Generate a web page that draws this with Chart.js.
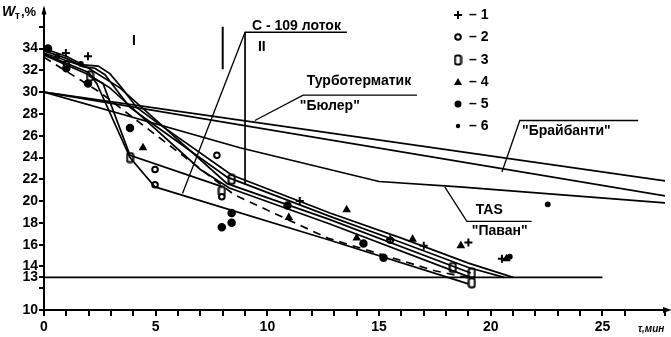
<!DOCTYPE html>
<html lang="ru">
<head>
<meta charset="UTF-8" />
<title>Wт от τ</title>
<style>
  body { margin: 0; background: #fff; }
  #wrap { width: 671px; height: 337px; }
</style>
</head>
<body>
<div id="wrap"><canvas id="chart" width="671" height="337"></canvas></div>
<script src="https://cdn.jsdelivr.net/npm/chart.js"></script>
<script>
// --- tick labels ---
const yTickVals   = [10, 12, 13, 14, 16, 18, 20, 22, 24, 26, 28, 30, 32, 34, 36];
const yTickLabels = ['10', '', '13', '14', '16', '18', '20', '22', '24', '26', '28', '30', '32', '34', ''];
const xTickLabels = ['0', '5', '10', '15', '20', '25'];

// --- drying curves (τ, Wт) ---
const upperA    = [[0,34],[1,33.3],[1.76,32.5],[2.43,32.4],[2.95,31.7],[3.48,30.4],[4.15,28.6],[5,27.3],[8.4,22.4],[12.8,18.9],[16,16.6],[19,14.3],[21,13.0]];
const upperB    = [[0,33.8],[1,33.1],[1.74,32.35],[2.28,32.2],[2.73,31.6],[3.25,30.2],[3.85,28.6],[5,26.9],[8.2,22.2],[12.8,18.6],[16,16.2],[19,13.9],[20.6,13.0]];
const straightA = [[0,33.6],[2,32.2],[3.4,30.4],[8.2,21.6],[12.8,18.3],[19.1,13.4]];
const straightB = [[0,33.4],[2,31.6],[2.95,30.4],[7,22.9],[8.3,21.2],[12.8,17.9],[19.2,12.9]];
const wedgeA    = [[0,33.5],[2,31.8],[2.36,30.8],[3.85,24],[4.97,21.3],[12.8,16.4],[19,12.4]];
const wedgeB    = [[2,31.5],[2.64,30.8],[3.85,24.2],[8,21.3]];
const dashedCurve = [[0,33.2],[2.5,30],[8.5,20.6],[12.7,16.6],[17.5,13.6],[19.1,12.9]];

// --- long lines of the dryers ---
const lineBuhler    = [[0,30],[28,21.8]];
const lineBraibanti = [[0,30],[28,20.4]];
const lineTas       = [[0,30],[8.77,24.9],[15,21.8],[18.6,21.3],[28,19.8]];
const line13        = [[0,13],[25,13]];

// --- leader lines ---
const zoneDivider  = [[8,36],[8,32.1]];
const c109Vertical = [[9,35.5],[9,21.5]];
const c109Leader   = [[6.2,20.7],[9,35.5],[13.56,35.5]];
const buhlerLeader = [[9.44,27.4],[11.6,29.73],[16.7,29.73]];
const braibLeader  = [[20.5,22.67],[21.3,27.4],[26.6,27.4]];
const tasLeader    = [[17.94,21.3],[18.93,18.14],[21.83,18.14]];

// --- experimental points ---
const series1 = [[0.98,33.6],[1.97,33.3],[11.45,20.0],[15.5,16.5],[17,15.9],[19.0,16.2],[20.5,14.7]];
const series2 = [[1.0,32.6],[4.97,22.9],[4.97,21.5],[7.74,24.2],[7.96,20.4],[15.5,16.4]];
const series3 = [[2.06,31.5],[3.85,24.0],[7.96,20.9],[8.4,22.0],[18.3,13.9],[19.15,13.4],[19.15,12.5]];
const series4 = [[4.43,24.9],[10.96,18.5],[13.55,19.2],[14.0,16.6],[16.5,16.5],[18.66,15.9],[20.7,14.7]];
const series5 = [[0.18,34.0],[1.0,32.2],[1.97,30.8],[3.85,26.7],[7.96,17.6],[8.4,18.0],[8.4,18.9],[10.9,19.6],[14.3,16.1],[15.2,14.8]];
const series6 = [[0.6,33.3],[1.65,32.6],[20.85,14.9],[22.55,19.7]];

const toXY = arr => arr.map(p => ({ x: p[0], y: p[1] }));

function lineSet(pts, extra) {
  return Object.assign({
    data: toXY(pts), showLine: true, borderColor: '#000', borderWidth: 1.7,
    pointRadius: 0, fill: false, tension: 0
  }, extra || {});
}
function pointSet(pts, extra) {
  return Object.assign({
    data: toXY(pts), showLine: false, borderColor: '#000', backgroundColor: '#000',
    borderWidth: 1.5, pointRadius: 3
  }, extra || {});
}

// tall rounded box for series 3
const boxImg = document.createElement('canvas');
boxImg.width = 9; boxImg.height = 12;
(function () {
  const c = boxImg.getContext('2d');
  c.fillStyle = '#fff'; c.strokeStyle = '#000'; c.lineWidth = 2;
  c.beginPath();
  c.roundRect ? c.roundRect(1.5, 1.5, 6, 9, 2) : c.rect(1.5, 1.5, 6, 9);
  c.fill(); c.stroke();
})();

const FONT = '"Liberation Sans", Arial, sans-serif';

const annot = {
  id: 'annot',
  afterDraw(chart) {
    const { ctx, scales: { x, y } } = chart;
    const px = v => x.getPixelForValue(v), py = v => y.getPixelForValue(v);
    ctx.save();
    ctx.fillStyle = '#000';
    ctx.textBaseline = 'middle';
    ctx.font = 'bold 14px ' + FONT;
    ctx.textAlign = 'center';
    ctx.fillText('С - 109 лоток', px(11.3), py(36.1));
    ctx.fillText('Турботерматик', px(14.1), py(31.0));
    ctx.fillText('II', px(9.75), py(34.1));
    ctx.fillText('I', px(4.03), py(34.7));
    ctx.textAlign = 'left';
    ctx.fillText('"Бюлер"', px(11.45), py(28.73));
    ctx.fillText('"Брайбанти"', px(21.4), py(26.4));
    ctx.fillText('TAS', px(19.33), py(19.2));
    ctx.fillText('"Паван"', px(19.15), py(17.24));

    // legend
    const rows = [15, 37, 60, 82, 104, 126];
    const lx = 458;
    rows.forEach((ry, i) => {
      ctx.fillText('– ' + (i + 1), 469, ry);
      ctx.lineWidth = 2; ctx.strokeStyle = '#000';
      ctx.beginPath();
      if (i === 0) { ctx.moveTo(lx - 4, ry); ctx.lineTo(lx + 4, ry); ctx.moveTo(lx, ry - 4); ctx.lineTo(lx, ry + 4); ctx.stroke(); }
      else if (i === 1) { ctx.arc(lx, ry, 2.8, 0, Math.PI * 2); ctx.fillStyle = '#fff'; ctx.fill(); ctx.stroke(); ctx.fillStyle = '#000'; }
      else if (i === 2) { ctx.drawImage(boxImg, lx - 4.5, ry - 6); }
      else if (i === 3) { ctx.moveTo(lx, ry - 4); ctx.lineTo(lx + 4, ry + 3); ctx.lineTo(lx - 4, ry + 3); ctx.closePath(); ctx.fill(); }
      else if (i === 4) { ctx.arc(lx, ry, 3.5, 0, Math.PI * 2); ctx.fill(); }
      else { ctx.arc(lx, ry, 2.2, 0, Math.PI * 2); ctx.fill(); }
    });

    // axis titles
    ctx.font = 'italic bold 14px ' + FONT;
    ctx.fillText('W', 2, 12);
    ctx.font = 'bold 10px ' + FONT;
    ctx.fillText('т', 15, 16);
    ctx.font = 'bold 13px ' + FONT;
    ctx.fillText(',%', 21, 12);
    ctx.font = 'italic bold 10px ' + FONT;
    ctx.fillText('τ,мин', 638, 329);

    // arrows
    const ca = chart.chartArea;
    ctx.beginPath();
    ctx.moveTo(ca.right + 7, ca.bottom);
    ctx.lineTo(ca.right - 2, ca.bottom - 3);
    ctx.lineTo(ca.right - 2, ca.bottom + 3);
    ctx.closePath(); ctx.fill();
    ctx.beginPath();
    ctx.moveTo(ca.left, ca.top - 4);
    ctx.lineTo(ca.left - 2.5, ca.top + 5);
    ctx.lineTo(ca.left + 2.5, ca.top + 5);
    ctx.closePath(); ctx.fill();
    ctx.restore();
  }
};

new Chart(document.getElementById('chart'), {
  type: 'line',
  data: {
    datasets: [
      lineSet(upperA), lineSet(upperB), lineSet(straightA), lineSet(straightB),
      lineSet(wedgeA), lineSet(wedgeB), lineSet(dashedCurve, { borderDash: [8, 6] }),
      lineSet(lineBuhler), lineSet(lineBraibanti), lineSet(lineTas), lineSet(line13),
      lineSet(zoneDivider, { borderWidth: 2 }), lineSet(c109Vertical), lineSet(c109Leader, { borderWidth: 1.3 }),
      lineSet(buhlerLeader, { borderWidth: 1.3 }), lineSet(braibLeader, { borderWidth: 1.3 }), lineSet(tasLeader, { borderWidth: 1.3 }),
      pointSet(series1, { pointStyle: 'cross', pointRadius: 4, borderWidth: 2 }),
      pointSet(series2, { pointStyle: 'circle', pointRadius: 2.8, backgroundColor: '#fff', borderWidth: 2 }),
      pointSet(series3, { pointStyle: boxImg }),
      pointSet(series4, { pointStyle: 'triangle', pointRadius: 3.5 }),
      pointSet(series5, { pointStyle: 'circle', pointRadius: 3.5 }),
      pointSet(series6, { pointStyle: 'circle', pointRadius: 2.2 })
    ]
  },
  options: {
    responsive: false,
    animation: false,
    layout: { padding: { top: 5, right: 6, left: 0, bottom: 0 } },
    plugins: { legend: { display: false }, tooltip: { enabled: false } },
    scales: {
      x: {
        type: 'linear', min: 0, max: 27.8,
        afterFit: s => { s.height = 27; },
        border: { color: '#000', width: 2 },
        grid: { drawOnChartArea: false, drawTicks: true, tickLength: 6, color: '#000', lineWidth: 2 },
        ticks: {
          stepSize: 1, padding: 3, color: '#000', maxRotation: 0, autoSkip: false,
          font: { family: FONT, size: 14, weight: 'bold' },
          callback: v => (v % 5 === 0 && xTickLabels.includes(String(v))) ? String(v) : ''
        }
      },
      y: {
        type: 'linear', min: 10, max: 37.6,
        afterFit: s => { s.width = 44; },
        afterBuildTicks: s => { s.ticks = yTickVals.map(v => ({ value: v })); },
        border: { color: '#000', width: 2 },
        grid: { drawOnChartArea: false, drawTicks: true, tickLength: 5, color: '#000', lineWidth: 2 },
        ticks: {
          padding: 1, color: '#000', autoSkip: false,
          font: { family: FONT, size: 14, weight: 'bold' },
          callback: v => { const i = yTickVals.indexOf(v); return i >= 0 ? yTickLabels[i] : ''; }
        }
      }
    }
  },
  plugins: [annot]
});
</script>
</body>
</html>
